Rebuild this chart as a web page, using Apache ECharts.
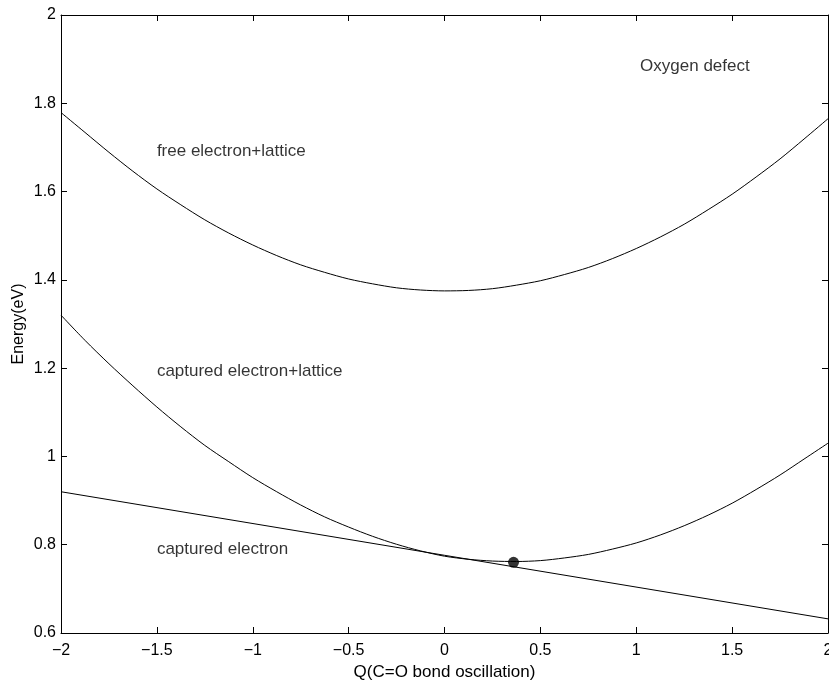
<!DOCTYPE html>
<html>
<head>
<meta charset="utf-8">
<script src="https://cdn.jsdelivr.net/npm/echarts@6/dist/echarts.min.js"></script>
<style>
  html, body { margin: 0; padding: 0; background: #fff; }
  #chart { width: 829px; height: 681px; }
</style>
</head>
<body>
<div id="chart"></div>
<script>
const qValues = [-2, -1.875, -1.75, -1.625, -1.5, -1.375, -1.25, -1.125, -1, -0.875, -0.75, -0.625, -0.5, -0.375, -0.25, -0.125,
  0, 0.125, 0.25, 0.375, 0.5, 0.625, 0.75, 0.875, 1, 1.125, 1.25, 1.375, 1.5, 1.625, 1.75, 1.875, 2];
// free electron + lattice
const freeLattice = [1.779, 1.734, 1.689, 1.646, 1.606, 1.570, 1.536, 1.506, 1.479, 1.455, 1.434, 1.417, 1.402, 1.391, 1.382, 1.377,
  1.375, 1.376, 1.380, 1.388, 1.398, 1.412, 1.428, 1.448, 1.471, 1.497, 1.526, 1.559, 1.594, 1.633, 1.674, 1.719, 1.765];
// captured electron + lattice
const capturedLattice = [1.32, 1.263, 1.21, 1.16, 1.112, 1.067, 1.025, 0.988, 0.952, 0.92, 0.89, 0.863, 0.84, 0.819, 0.801, 0.786,
  0.774, 0.767, 0.763, 0.762, 0.764, 0.770, 0.778, 0.790, 0.804, 0.822, 0.843, 0.867, 0.894, 0.925, 0.958, 0.994, 1.03];
// captured electron (straight line)
const lineQ = [-2, 2];
const capturedElectron = [0.92, 0.632];
// equilibrium point
const dotPoint = [0.36, 0.76];

const labelTexts = [
  { q: -1.5, e: 1.692, text: 'free electron+lattice' },
  { q: -1.5, e: 1.192, text: 'captured electron+lattice' },
  { q: -1.5, e: 0.79, text: 'captured electron' },
  { q: 1.02, e: 1.883, text: 'Oxygen defect' }
];

const font = '"Liberation Sans", Arial, sans-serif';
const minus = v => String(v).replace('-', '\u2212');

let myChart = echarts.init(document.getElementById('chart'));

const axisLine = { show: true, onZero: false, lineStyle: { color: '#000', width: 1 } };
const tickIn = { show: true, inside: true, length: 6, lineStyle: { color: '#000' } };

myChart.setOption({
  animation: false,
  grid: { left: 61, right: 1, top: 15, bottom: 48, outerBoundsMode: 'none', containLabel: false },
  xAxis: [
    {
      type: 'value', min: -2, max: 2, interval: 0.5,
      name: 'Q(C=O bond oscillation)', nameLocation: 'middle', nameGap: 31,
      nameTextStyle: { fontFamily: font, fontSize: 17, color: '#000' },
      axisLine: axisLine, axisTick: tickIn, splitLine: { show: false },
      axisLabel: { fontFamily: font, fontSize: 16, color: '#000', margin: 10, formatter: minus }
    },
    {
      type: 'value', min: -2, max: 2, interval: 0.5, position: 'top',
      axisLine: axisLine, axisTick: tickIn, splitLine: { show: false },
      axisLabel: { show: false }
    }
  ],
  yAxis: [
    {
      type: 'value', min: 0.6, max: 2, interval: 0.2,
      name: 'Energy(eV)', nameLocation: 'middle', nameGap: 34, nameMoveOverlap: false,
      nameTextStyle: { fontFamily: font, fontSize: 16, color: '#000' },
      axisLine: axisLine, axisTick: tickIn, splitLine: { show: false },
      axisLabel: { fontFamily: font, fontSize: 16, color: '#000', margin: 5,
        formatter: v => String(Math.round(v * 10) / 10) }
    },
    {
      type: 'value', min: 0.6, max: 2, interval: 0.2, position: 'right',
      axisLine: axisLine, axisTick: tickIn, splitLine: { show: false },
      axisLabel: { show: false }
    }
  ],
  series: [
    {
      type: 'line', smooth: 0.3, symbol: 'none',
      data: qValues.map((q, i) => [q, freeLattice[i]]),
      lineStyle: { color: '#000', width: 1 }
    },
    {
      type: 'line', smooth: 0.3, symbol: 'none',
      data: qValues.map((q, i) => [q, capturedLattice[i]]),
      lineStyle: { color: '#000', width: 1 }
    },
    {
      type: 'line', symbol: 'none',
      data: lineQ.map((q, i) => [q, capturedElectron[i]]),
      lineStyle: { color: '#000', width: 1 }
    },
    {
      type: 'scatter', symbolSize: 11,
      data: [dotPoint],
      itemStyle: { color: '#000' }
    },
    {
      type: 'scatter', symbolSize: 0,
      data: labelTexts.map(d => ({ value: [d.q, d.e], name: d.text })),
      label: {
        show: true, position: 'right', distance: 0,
        formatter: p => p.name,
        fontFamily: font, fontSize: 17, color: '#000'
      },
      itemStyle: { color: 'transparent' }
    }
  ]
});
</script>
</body>
</html>
